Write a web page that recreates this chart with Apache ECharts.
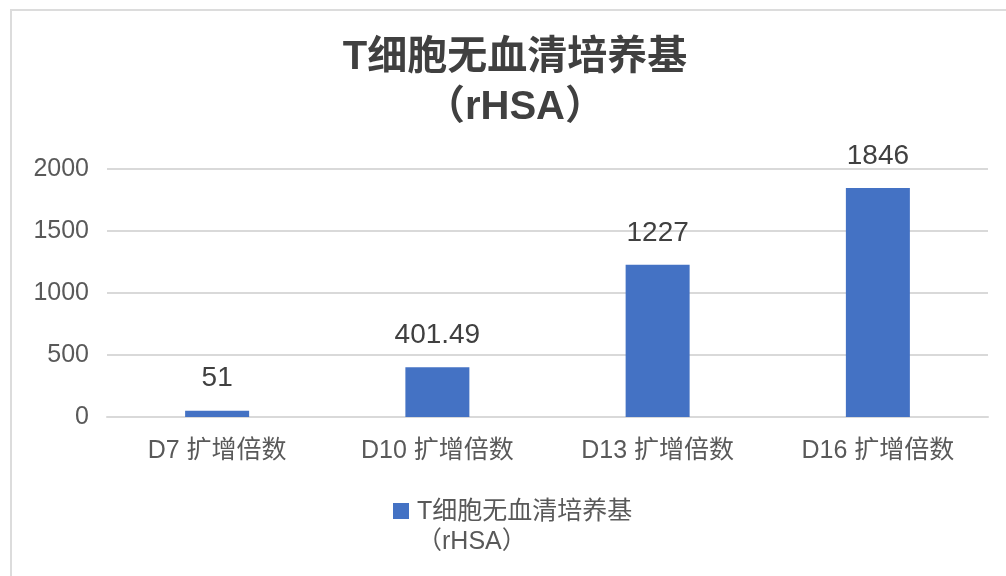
<!DOCTYPE html>
<html>
<head>
<meta charset="utf-8">
<script src="https://cdn.jsdelivr.net/npm/echarts@6/dist/echarts.min.js"></script>
<style>
html,body{margin:0;padding:0;background:#fff;}
#chart{width:1006px;height:576px;}
</style>
</head>
<body>
<div id="chart"></div>
<script>
var titleText = 'T细胞无血清培养基\n（rHSA）';
var seriesName = 'T细胞无血清培养基\n（rHSA）';
var categories = ['D7 扩增倍数', 'D10 扩增倍数', 'D13 扩增倍数', 'D16 扩增倍数'];
var values = [51, 401.49, 1227, 1846];
var yTicks = [0, 500, 1000, 1500, 2000];

var FONT = "'Liberation Sans', 'Noto Sans CJK SC', sans-serif";
var chart = echarts.init(document.getElementById('chart'), null, {renderer: 'canvas'});
chart.setOption({
  backgroundColor: '#ffffff',
  animation: false,
  graphic: [{
    type: 'rect',
    shape: {x: 11, y: 10, width: 1200, height: 800},
    style: {fill: 'none', stroke: '#dcdcdc', lineWidth: 2},
    silent: true,
    z: -1
  }],
  title: {
    text: titleText,
    left: 515,
    top: 33,
    padding: 0,
    textAlign: 'center',
    textStyle: {
      fontFamily: FONT,
      fontSize: 40,
      fontWeight: 'bold',
      color: '#404040',
      lineHeight: 50
    }
  },
  legend: {
    left: 393,
    top: 497,
    padding: 0,
    itemWidth: 16,
    itemHeight: 60,
    icon: 'path://M0,6H16V22H0Z M0,0L0.01,0 M0,60L0.01,60',
    textStyle: {
      fontFamily: FONT,
      fontSize: 25,
      lineHeight: 30,
      color: '#595959',
      padding: [0, 0, 0, 3]
    },
    data: [seriesName]
  },
  grid: {
    left: 107,
    right: 18,
    top: 169,
    bottom: 159,
    containLabel: false
  },
  xAxis: {
    type: 'category',
    data: categories,
    axisLine: {show: true, lineStyle: {color: '#d9d9d9', width: 2}},
    axisTick: {show: false},
    axisLabel: {
      fontFamily: FONT,
      fontSize: 25,
      color: '#595959',
      margin: 22
    }
  },
  yAxis: {
    type: 'value',
    min: yTicks[0],
    max: yTicks[yTicks.length - 1],
    interval: yTicks[1] - yTicks[0],
    axisLine: {show: false},
    axisTick: {show: false},
    splitLine: {lineStyle: {color: '#d9d9d9', width: 2}},
    axisLabel: {
      fontFamily: FONT,
      fontSize: 25,
      color: '#595959',
      margin: 18,
      formatter: function (v) { return String(v); }
    }
  },
  series: [{
    name: seriesName,
    type: 'bar',
    data: values,
    barWidth: 64,
    itemStyle: {color: '#4472C4'},
    label: {
      show: true,
      position: 'top',
      distance: 18,
      fontFamily: FONT,
      fontSize: 28,
      color: '#404040'
    }
  }]
});
</script>
</body>
</html>
